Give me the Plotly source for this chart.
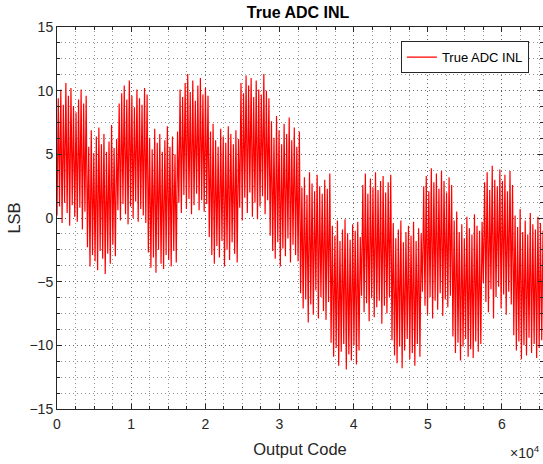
import numpy as np
import plotly.graph_objects as go

# Values: alternating trough / peak levels (LSB),
# 16 blocks of 4096 codes, 12 oscillations per block
peak_lsb = [
    9.4, 10.1, 8.9, 10.6, 9.6, 10.2, 8.8, 8.3, 9.3, 10.1, 9.0, 9.6,
    5.6, 6.9, 5.1, 6.4, 7.1, 5.8, 6.6, 5.2, 6.0, 7.3, 5.5, 6.2,
    9.0, 9.8, 10.4, 9.3, 10.8, 9.6, 8.7, 10.1, 9.4, 8.9, 10.2, 9.7,
    6.3, 5.4, 7.0, 5.9, 6.6, 5.2, 6.1, 7.2, 5.6, 6.4, 5.0, 6.8,
    10.1, 9.5, 10.6, 11.3, 9.9, 10.8, 9.2, 10.4, 11.0, 9.7, 10.2, 9.6,
    6.8, 7.4, 6.1, 5.6, 7.0, 6.4, 5.9, 7.2, 6.6, 5.8, 6.9, 6.2,
    10.6, 9.8, 11.2, 10.4, 11.0, 9.5, 10.8, 10.1, 9.7, 11.3, 10.0, 9.4,
    7.6, 6.3, 8.0, 6.9, 5.8, 7.4, 6.6, 7.9, 6.1, 7.1, 5.6, 6.8,
    2.4, 3.2, 1.8, 3.6, 2.7, 2.1, 3.4, 2.5, 1.9, 3.0, 2.3, 3.5,
    -0.6, -1.4, -0.2, -1.8, -0.9, -0.1, -1.2, -1.7, -0.5, -1.0, -0.3, -1.5,
    2.6, 3.5, 1.9, 3.1, 2.4, 3.6, 2.2, 2.9, 3.3, 2.0, 2.8, 3.4,
    -0.4, -1.6, -0.9, -0.2, -1.9, -1.1, -0.6, -1.4, -0.3, -1.8, -0.8, -1.2,
    2.5, 3.3, 2.1, 3.9, 2.8, 3.5, 2.3, 3.7, 2.9, 2.0, 3.2, 2.6,
    -0.2, 0.5, -1.1, -0.5, -1.6, 0.1, -0.8, -1.3, 0.3, -0.6, -1.0, -0.3,
    2.8, 3.6, 2.2, 4.1, 3.0, 2.5, 3.8, 2.9, 3.4, 2.1, 3.7, 2.6,
    0.2, -0.7, 0.7, -1.1, -0.2, -1.3, 0.4, -0.5, -0.9, 0.1, -0.4, -1.0,
]
trough_lsb = [
    0.2, 0.9, -0.4, 1.2, 0.4, -0.6, 1.0, 0.1, -0.3, 0.8, -0.9, 0.5,
    -2.3, -3.8, -2.9, -3.4, -4.1, -2.6, -3.2, -4.4, -2.8, -3.6, -2.1, -3.0,
    0.6, -0.2, 1.1, 0.3, -0.5, 0.9, 0.0, 1.3, -0.3, 0.7, 0.2, -0.4,
    -2.7, -3.9, -3.1, -4.3, -2.5, -3.6, -4.0, -2.9, -3.3, -3.8, -2.6, -3.5,
    1.2, 0.4, 1.8, 0.7, 1.5, 0.3, 1.0, 1.9, 0.6, 1.4, 0.5, 1.1,
    -1.5, -2.9, -3.6, -2.2, -3.1, -1.8, -3.8, -2.5, -3.3, -1.9, -2.8, -3.5,
    0.8, -0.2, 1.6, 0.4, 2.0, 0.1, 1.2, -0.1, 0.9, 1.7, 0.3, 1.4,
    -1.4, -2.6, -3.2, -1.9, -3.8, -2.4, -3.0, -1.6, -3.5, -2.1, -2.9, -3.4,
    -5.9, -7.1, -6.4, -8.2, -6.8, -7.6, -5.7, -7.9, -6.2, -7.3, -8.0, -6.6,
    -9.8, -10.9, -10.2, -11.6, -10.5, -9.9, -11.9, -10.7, -11.2, -10.0, -11.5, -10.4,
    -6.1, -7.4, -6.7, -8.1, -6.3, -7.8, -7.0, -6.5, -8.3, -6.9, -7.5, -6.2,
    -9.6, -10.8, -11.4, -10.1, -11.8, -10.4, -9.5, -11.1, -10.6, -11.6, -9.9, -10.9,
    -5.8, -6.9, -7.6, -6.2, -7.9, -6.5, -7.2, -5.9, -7.7, -6.4, -7.0, -6.1,
    -9.3, -10.6, -9.8, -11.2, -10.1, -9.5, -10.9, -10.3, -11.0, -9.7, -10.5, -9.9,
    -5.1, -6.6, -7.4, -5.6, -7.9, -6.2, -5.4, -7.1, -6.0, -7.6, -5.8, -6.8,
    -9.2, -10.4, -9.7, -11.1, -10.0, -10.8, -9.4, -10.6, -9.9, -11.0, -10.2, -9.6,
]
x_tick_vals = [0, 10000, 20000, 30000, 40000, 50000, 60000]
x_tick_text = ["0", "1", "2", "3", "4", "5", "6"]
y_tick_vals = [-15, -10, -5, 0, 5, 10, 15]
n_codes = 65536

inl = []
for t, p in zip(trough_lsb, peak_lsb):
    inl.extend([t, p])
codes = np.linspace(0, n_codes - 1, len(inl))

font = "Liberation Sans, Arial, Helvetica, sans-serif"
axis_col = "#262626"
grid_col = "rgba(60,60,60,0.55)"

fig = go.Figure()
fig.add_trace(go.Scatter(
    x=codes, y=inl, mode="lines", name="True ADC INL",
    line=dict(color="#ff0000", width=1.2),
))

common = dict(
    showline=True, linecolor=axis_col, linewidth=1, mirror="ticks",
    ticks="inside", ticklen=5, tickcolor=axis_col, automargin=False,
    showgrid=True, gridcolor=grid_col, griddash="1px,3px", gridwidth=1,
    zeroline=False, tickfont=dict(family=font, size=14, color=axis_col),
)
fig.update_xaxes(
    range=[0, n_codes], tickvals=x_tick_vals, ticktext=x_tick_text,
    ticklabelstandoff=2,
    minor=dict(dtick=2500, tick0=0, showgrid=True, gridcolor=grid_col,
               griddash="1px,3px", ticks="inside", ticklen=3, tickcolor=axis_col),
    title=dict(text="Output Code", font=dict(family=font, size=16.5, color=axis_col), standoff=12),
    **common,
)
fig.update_yaxes(
    range=[-15, 15], tickvals=y_tick_vals,
    minor=dict(dtick=1.25, tick0=0, showgrid=True, gridcolor=grid_col,
               griddash="1px,3px", ticks="inside", ticklen=3, tickcolor=axis_col),
    title=dict(text="LSB", font=dict(family=font, size=16.5, color=axis_col), standoff=4),
    **common,
)
fig.add_annotation(
    xref="paper", yref="paper", x=0.998, y=-0.085, xanchor="right", yanchor="top",
    text="×10<sup>4</sup>", showarrow=False,
    font=dict(family=font, size=14, color=axis_col),
)
fig.update_layout(
    width=543, height=464,
    margin=dict(l=57, r=0, t=27, b=55),
    paper_bgcolor="white", plot_bgcolor="white",
    title=dict(text="<b>True ADC INL</b>", x=0.549, xanchor="center",
               y=1 - 12 / 464, yanchor="middle", yref="container",
               font=dict(family=font, size=16, color="black")),
    showlegend=True,
    legend=dict(x=0.971, y=0.963, xanchor="right", yanchor="top",
                bgcolor="white", bordercolor=axis_col, borderwidth=1,
                font=dict(family=font, size=13, color="black")),
)
fig.write_html("out.html", config={"displayModeBar": False},
               post_script="document.body.style.margin='0';")
